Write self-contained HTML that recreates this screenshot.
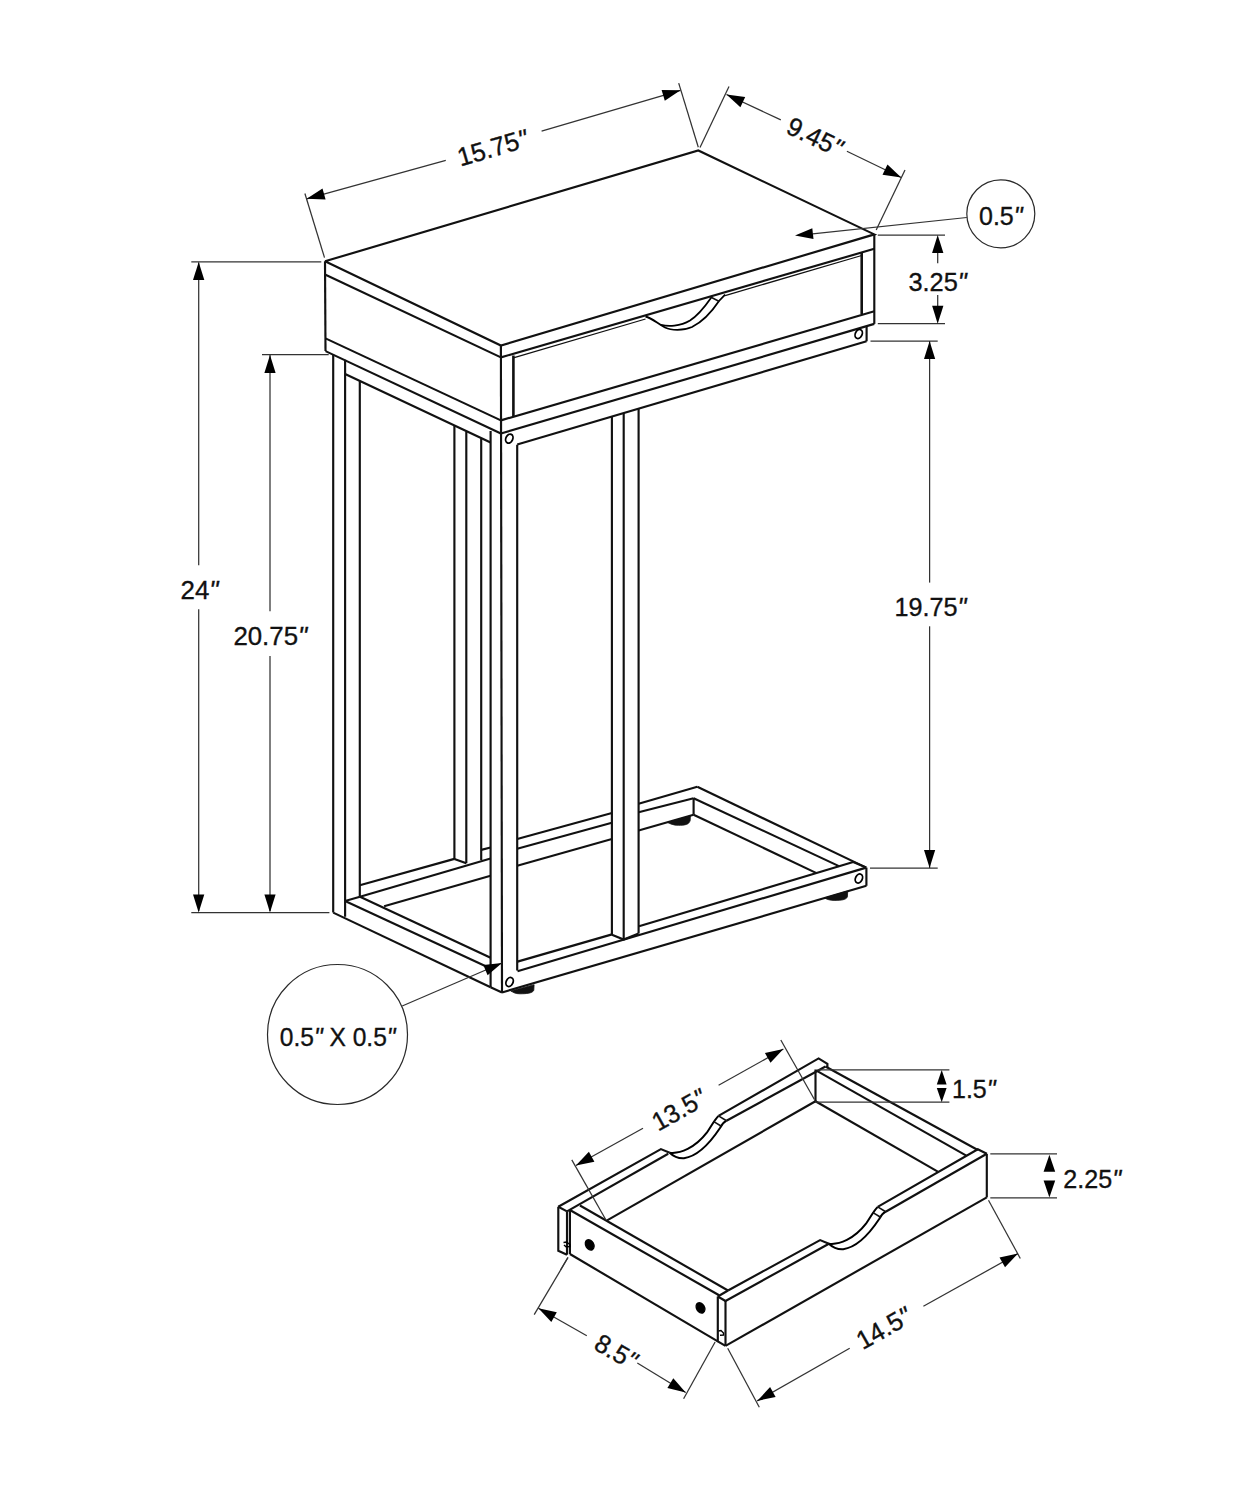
<!DOCTYPE html>
<html><head><meta charset="utf-8"><style>
html,body{margin:0;padding:0;background:#fff;}
svg{display:block;}
text{font-family:"Liberation Sans",sans-serif;fill:#111;stroke:#111;stroke-width:0.35px;}
</style></head><body>
<svg width="1236" height="1500" viewBox="0 0 1236 1500" stroke-linecap="butt" stroke-linejoin="miter">
<rect width="1236" height="1500" fill="#fff"/>
<path d="M325.0,261.3 L698.3,150.5 L874.3,234.4 L500.9,345.5 L325.0,261.3" stroke="#111" stroke-width="2.15" fill="none"/>
<path d="M325.0,261.3 L325.5,351.1" stroke="#111" stroke-width="2.15" fill="none"/>
<path d="M325.0,274.5 L500.9,357.4" stroke="#111" stroke-width="2.15" fill="none"/>
<path d="M325.5,338.4 L500.9,420.4" stroke="#111" stroke-width="2.15" fill="none"/>
<path d="M325.5,351.1 L500.9,433.5" stroke="#111" stroke-width="2.15" fill="none"/>
<path d="M500.9,345.5 L502.0,992.5" stroke="#111" stroke-width="2.15" fill="none"/>
<path d="M874.3,234.4 L874.3,323.9" stroke="#111" stroke-width="2.15" fill="none"/>
<path d="M500.9,357.4 L874.3,248.8" stroke="#111" stroke-width="2.15" fill="none"/>
<path d="M500.9,420.4 L874.3,311.3" stroke="#111" stroke-width="2.15" fill="none"/>
<path d="M500.9,433.5 L874.3,323.9" stroke="#111" stroke-width="2.15" fill="none"/>
<path d="M513.4,355.5 L513.4,417.0" stroke="#111" stroke-width="2.6" fill="none"/>
<path d="M861.7,252.5 L861.7,314.0" stroke="#111" stroke-width="2.6" fill="none"/>
<path d="M513.4,357.8 L645.5,319.0" stroke="#111" stroke-width="1.3" fill="none"/>
<path d="M725.1,295.6 L861.7,255.5" stroke="#111" stroke-width="1.3" fill="none"/>
<path d="M645.5,316.5 C652,318 658,324 665,327.5 C671,330.5 683,331 692,327 C704,321 713,310 719,301 L725.1,294.6" stroke="#000" stroke-width="1.8" fill="none"/>
<path d="M661,324.8 C668,326.5 680,326.5 690,320.5 C700,314 706,305 711.6,297" stroke="#000" stroke-width="1.8" fill="none"/>
<path d="M711.6,297.5 L719.3,301.5" stroke="#111" stroke-width="1.5" fill="none"/>
<ellipse cx="509.3" cy="438.6" rx="3.4" ry="4.7" transform="rotate(25 509.3 438.6)" stroke="#000" stroke-width="1.8" fill="none"/>
<ellipse cx="858.7" cy="334.0" rx="3.4" ry="4.7" transform="rotate(25 858.7 334.0)" stroke="#000" stroke-width="1.8" fill="none"/>
<ellipse cx="509.6" cy="982.0" rx="3.4" ry="4.7" transform="rotate(25 509.6 982.0)" stroke="#000" stroke-width="1.8" fill="none"/>
<ellipse cx="858.9" cy="878.5" rx="3.4" ry="4.7" transform="rotate(25 858.9 878.5)" stroke="#000" stroke-width="1.8" fill="none"/>
<path d="M333.2,354.5 L333.2,912.6" stroke="#111" stroke-width="2.15" fill="none"/>
<path d="M345.1,359.8 L345.1,916.8" stroke="#111" stroke-width="2.15" fill="none"/>
<path d="M359.8,381.2 L359.8,896.5" stroke="#111" stroke-width="2.15" fill="none"/>
<path d="M345.1,374.0 L490.6,442.5" stroke="#111" stroke-width="2.15" fill="none"/>
<path d="M454.4,425.8 L454.4,858.9" stroke="#111" stroke-width="2.15" fill="none"/>
<path d="M466.3,431.4 L466.3,863.3" stroke="#111" stroke-width="2.15" fill="none"/>
<path d="M481.2,438.5 L481.2,860.0" stroke="#111" stroke-width="2.15" fill="none"/>
<path d="M490.6,431.1 L490.6,987.2" stroke="#111" stroke-width="2.15" fill="none"/>
<path d="M517.2,444.7 L517.2,970.4" stroke="#111" stroke-width="2.15" fill="none"/>
<path d="M517.2,444.5 L866.6,341.3" stroke="#111" stroke-width="2.15" fill="none"/>
<path d="M866.6,326.0 L866.6,341.3" stroke="#111" stroke-width="2.15" fill="none"/>
<path d="M611.9,416.4 L611.9,934.8" stroke="#111" stroke-width="2.15" fill="none"/>
<path d="M623.7,413.0 L623.7,939.6" stroke="#111" stroke-width="2.15" fill="none"/>
<path d="M638.6,408.5 L638.6,933.5" stroke="#111" stroke-width="2.15" fill="none"/>
<path d="M333.2,912.6 L490.6,987.2" stroke="#111" stroke-width="2.15" fill="none"/>
<path d="M345.1,901.0 L490.6,968.5" stroke="#111" stroke-width="2.15" fill="none"/>
<path d="M360.0,896.8 L490.6,957.8" stroke="#111" stroke-width="2.15" fill="none"/>
<path d="M345.1,901.0 L360.0,896.8" stroke="#111" stroke-width="2.15" fill="none"/>
<path d="M359.8,885.2 L454.4,858.9" stroke="#111" stroke-width="2.15" fill="none"/>
<path d="M454.4,858.9 L466.3,863.3" stroke="#111" stroke-width="2.15" fill="none"/>
<path d="M360.0,896.8 L490.6,858.5" stroke="#111" stroke-width="2.15" fill="none"/>
<path d="M384.1,906.2 L490.6,875.7" stroke="#111" stroke-width="2.15" fill="none"/>
<path d="M481.2,849.9 L490.6,847.5" stroke="#111" stroke-width="2.15" fill="none"/>
<path d="M517.2,839.0 L611.9,813.0" stroke="#111" stroke-width="2.15" fill="none"/>
<path d="M517.2,848.7 L611.9,822.7" stroke="#111" stroke-width="2.15" fill="none"/>
<path d="M517.2,865.7 L611.9,839.0" stroke="#111" stroke-width="2.15" fill="none"/>
<path d="M638.6,803.8 L697.3,786.8" stroke="#111" stroke-width="2.15" fill="none"/>
<path d="M638.6,812.3 L693.6,798.2" stroke="#111" stroke-width="2.15" fill="none"/>
<path d="M638.6,830.5 L693.6,814.7" stroke="#111" stroke-width="2.15" fill="none"/>
<path d="M693.6,798.2 L693.6,814.7" stroke="#111" stroke-width="2.15" fill="none"/>
<path d="M697.3,786.8 L866.2,867.6" stroke="#111" stroke-width="2.15" fill="none"/>
<path d="M693.6,798.2 L839.5,866.4" stroke="#111" stroke-width="2.15" fill="none"/>
<path d="M693.6,814.7 L816.0,872.9" stroke="#111" stroke-width="2.15" fill="none"/>
<path d="M517.5,961.6 L612.0,934.4" stroke="#111" stroke-width="2.15" fill="none"/>
<path d="M517.5,971.3 L866.2,867.6" stroke="#111" stroke-width="2.15" fill="none"/>
<path d="M639.0,926.3 L853.2,862.0" stroke="#111" stroke-width="2.15" fill="none"/>
<path d="M853.2,862.0 L866.2,867.6" stroke="#111" stroke-width="2.15" fill="none"/>
<path d="M502.0,992.5 L866.4,885.8" stroke="#111" stroke-width="2.15" fill="none"/>
<path d="M866.4,867.6 L866.4,885.8" stroke="#111" stroke-width="2.15" fill="none"/>
<path d="M490.6,987.2 L502.0,992.5" stroke="#111" stroke-width="2.15" fill="none"/>
<path d="M611.9,934.8 L623.7,939.6 L638.6,933.5" stroke="#111" stroke-width="2.15" fill="none"/>
<path d="M667.4,822.4 L690.4,815.8 L690.2,820.2 C689.2,824.8 684.5,825.3 678.5,825.3 C673.5,825.3 670.4,823.9 667.4,822.4 Z" stroke="#111" stroke-width="0.8" fill="#111"/>
<path d="M824.4,898.0 L847.7,891.0 L847.4,896.8 C846.4,899.9 840.8,900.4 834.8,900.4 C829.8,900.4 827.4,899.5 824.4,898.0 Z" stroke="#111" stroke-width="0.8" fill="#111"/>
<path d="M510.8,991.0 L534.1,984.7 L533.8,990.2 C532.8,993.3 526.0,993.8 520.0,993.8 C515.0,993.8 513.8,992.5 510.8,991.0 Z" stroke="#111" stroke-width="0.8" fill="#111"/>
<path d="M191.3,261.8 L321.3,261.8" stroke="#333" stroke-width="1.25" fill="none"/>
<path d="M191.3,912.6 L329.4,912.6" stroke="#333" stroke-width="1.25" fill="none"/>
<path d="M198.7,262.5 L198.7,565.2" stroke="#333" stroke-width="1.25" fill="none"/>
<path d="M198.7,609.3 L198.7,911.0" stroke="#333" stroke-width="1.25" fill="none"/>
<path d="M198.7,262.0 L193.0,280.0 L204.3,280.0 Z" fill="#000"/>
<path d="M198.7,912.6 L204.3,894.6 L193.0,894.6 Z" fill="#000"/>
<text x="199.5" y="598.9" font-size="26.5" text-anchor="middle" textLength="38" lengthAdjust="spacingAndGlyphs">24<tspan font-style="italic">&quot;</tspan></text>
<path d="M262.0,354.5 L328.7,354.5" stroke="#333" stroke-width="1.25" fill="none"/>
<path d="M270.0,355.0 L270.0,611.2" stroke="#333" stroke-width="1.25" fill="none"/>
<path d="M270.0,655.9 L270.0,911.0" stroke="#333" stroke-width="1.25" fill="none"/>
<path d="M270.0,355.0 L264.4,373.0 L275.6,373.0 Z" fill="#000"/>
<path d="M270.0,912.6 L275.6,894.6 L264.4,894.6 Z" fill="#000"/>
<text x="270.3" y="644.9" font-size="26.3" text-anchor="middle" textLength="73.8" lengthAdjust="spacingAndGlyphs">20.75<tspan font-style="italic">&quot;</tspan></text>
<path d="M877.8,235.0 L945.0,235.0" stroke="#333" stroke-width="1.25" fill="none"/>
<path d="M877.8,323.7 L945.0,323.7" stroke="#333" stroke-width="1.25" fill="none"/>
<path d="M937.7,252.0 L937.7,263.3" stroke="#333" stroke-width="1.25" fill="none"/>
<path d="M937.7,294.9 L937.7,306.2" stroke="#333" stroke-width="1.25" fill="none"/>
<path d="M937.7,235.0 L932.1,253.0 L943.4,253.0 Z" fill="#000"/>
<path d="M937.7,323.7 L943.4,305.7 L932.1,305.7 Z" fill="#000"/>
<text x="937.6" y="290.8" font-size="26" text-anchor="middle" textLength="58.3" lengthAdjust="spacingAndGlyphs">3.25<tspan font-style="italic">&quot;</tspan></text>
<path d="M870.5,341.0 L937.7,341.0" stroke="#333" stroke-width="1.25" fill="none"/>
<path d="M870.0,868.0 L937.7,868.0" stroke="#333" stroke-width="1.25" fill="none"/>
<path d="M929.6,341.0 L929.6,582.6" stroke="#333" stroke-width="1.25" fill="none"/>
<path d="M929.6,626.3 L929.6,868.0" stroke="#333" stroke-width="1.25" fill="none"/>
<path d="M929.6,341.0 L924.0,359.0 L935.2,359.0 Z" fill="#000"/>
<path d="M929.6,868.0 L935.2,850.0 L924.0,850.0 Z" fill="#000"/>
<text x="930.5" y="616.3" font-size="26" text-anchor="middle" textLength="72" lengthAdjust="spacingAndGlyphs">19.75<tspan font-style="italic">&quot;</tspan></text>
<path d="M304.9,193.5 L324.5,257.6" stroke="#333" stroke-width="1.25" fill="none"/>
<path d="M678.7,83.1 L698.3,147.2" stroke="#333" stroke-width="1.25" fill="none"/>
<path d="M306.7,198.8 L445.8,160.3" stroke="#333" stroke-width="1.25" fill="none"/>
<path d="M541.6,131.1 L680.5,90.3" stroke="#333" stroke-width="1.25" fill="none"/>
<path d="M306.7,198.8 L325.6,199.4 L322.5,188.6 Z" fill="#000"/>
<path d="M680.5,90.3 L661.6,90.0 L664.8,100.8 Z" fill="#000"/>
<text x="495" y="156.5" font-size="26" text-anchor="middle" textLength="72" lengthAdjust="spacingAndGlyphs" transform="rotate(-16.3 495 156.5)">15.75<tspan font-style="italic">&quot;</tspan></text>
<path d="M729.0,86.5 L700.0,147.5" stroke="#333" stroke-width="1.25" fill="none"/>
<path d="M905.0,170.0 L876.2,230.0" stroke="#333" stroke-width="1.25" fill="none"/>
<path d="M726.5,94.5 L780.8,119.9" stroke="#333" stroke-width="1.25" fill="none"/>
<path d="M846.9,151.2 L901.2,177.5" stroke="#333" stroke-width="1.25" fill="none"/>
<path d="M726.5,94.5 L740.4,107.2 L745.2,97.0 Z" fill="#000"/>
<path d="M901.2,177.5 L887.5,164.6 L882.5,174.7 Z" fill="#000"/>
<text x="811" y="145" font-size="26" text-anchor="middle" textLength="58" lengthAdjust="spacingAndGlyphs" transform="rotate(25.6 811 145)">9.45<tspan font-style="italic">&quot;</tspan></text>
<path d="M812.6,233.9 L966.8,217.5" stroke="#333" stroke-width="1.25" fill="none"/>
<path d="M795.0,235.5 L813.5,239.1 L812.3,228.2 Z" fill="#000"/>
<circle cx="1000.8" cy="213.8" r="34" stroke="#2a2a2a" stroke-width="1.2" fill="none"/>
<text x="1000.8" y="225" font-size="25" text-anchor="middle" textLength="43.6" lengthAdjust="spacingAndGlyphs">0.5<tspan font-style="italic">&quot;</tspan></text>
<path d="M502.0,963.0 L402.2,1006.0" stroke="#333" stroke-width="1.25" fill="none"/>
<path d="M502.0,963.0 L483.3,965.1 L487.6,975.2 Z" fill="#000"/>
<circle cx="337.5" cy="1034.5" r="70" stroke="#2a2a2a" stroke-width="1.2" fill="none"/>
<text x="337.7" y="1046.1" font-size="26" text-anchor="middle" textLength="115.7" lengthAdjust="spacingAndGlyphs">0.5<tspan font-style="italic">&quot;</tspan> X 0.5<tspan font-style="italic">&quot;</tspan></text>
<path d="M558.3,1206.8 L660.9,1149.1 L669.7,1152.7" stroke="#111" stroke-width="2.15" fill="none"/>
<path d="M567.0,1211.4 L668.2,1153.8" stroke="#111" stroke-width="2.15" fill="none"/>
<path d="M669.7,1152.7 C680,1154 695,1148 706.8,1132.7 C712,1125 715,1119 718.5,1115.9" stroke="#000" stroke-width="2" fill="none"/>
<path d="M669.7,1152.7 C673,1156 678,1158.5 684,1158.2 C700,1156 712,1140 720,1128 C722,1124 724,1122 726.5,1120.7" stroke="#000" stroke-width="2" fill="none"/>
<path d="M713.8,1121.6 L721.4,1126.3" stroke="#111" stroke-width="1.6" fill="none"/>
<path d="M718.5,1115.9 L726.5,1120.7" stroke="#111" stroke-width="1.6" fill="none"/>
<path d="M718.5,1115.9 L818.6,1058.4 L827.4,1063.9 L827.4,1067.0" stroke="#111" stroke-width="2.15" fill="none"/>
<path d="M726.5,1120.7 L825.5,1066.5" stroke="#111" stroke-width="2.15" fill="none"/>
<path d="M607.1,1220.4 L815.5,1101.2" stroke="#111" stroke-width="2.15" fill="none"/>
<path d="M815.5,1069.5 L815.5,1101.2" stroke="#111" stroke-width="2.15" fill="none"/>
<path d="M558.3,1206.8 L558.3,1250.8 L567.0,1254.7" stroke="#111" stroke-width="2.15" fill="none"/>
<path d="M567.0,1211.4 L567.0,1254.7" stroke="#111" stroke-width="2.15" fill="none"/>
<path d="M558.3,1206.8 L567.0,1211.4" stroke="#111" stroke-width="2.15" fill="none"/>
<path d="M569.9,1210.0 L569.9,1254.0" stroke="#111" stroke-width="2.15" fill="none"/>
<path d="M825.5,1066.5 L977.8,1150.0" stroke="#111" stroke-width="2.15" fill="none"/>
<path d="M816.0,1070.4 L966.3,1155.6" stroke="#111" stroke-width="2.15" fill="none"/>
<path d="M815.5,1101.2 L937.8,1171.6" stroke="#111" stroke-width="2.15" fill="none"/>
<path d="M580.0,1205.5 L728.0,1290.5" stroke="#111" stroke-width="2.15" fill="none"/>
<path d="M569.9,1210.0 L719.1,1295.3" stroke="#111" stroke-width="2.15" fill="none"/>
<path d="M569.9,1254.0 L717.8,1341.4" stroke="#111" stroke-width="2.15" fill="none"/>
<path d="M717.8,1296.5 L717.8,1341.4 L725.5,1345.9" stroke="#111" stroke-width="2.15" fill="none"/>
<path d="M725.5,1301.0 L725.5,1345.9" stroke="#111" stroke-width="2.15" fill="none"/>
<path d="M717.8,1296.5 L725.5,1301.0" stroke="#111" stroke-width="2.15" fill="none"/>
<path d="M717.8,1296.5 L728.0,1290.5" stroke="#111" stroke-width="2.15" fill="none"/>
<path d="M728.0,1290.5 L820.1,1240.1 L828.9,1243.8" stroke="#111" stroke-width="2.15" fill="none"/>
<path d="M725.5,1301.0 L828.9,1243.8" stroke="#111" stroke-width="2.15" fill="none"/>
<g transform="translate(159.2,91)">
<path d="M669.7,1152.7 C680,1154 695,1148 706.8,1132.7 C712,1125 715,1119 718.5,1115.9" stroke="#000" stroke-width="2" fill="none"/>
<path d="M669.7,1152.7 C673,1156 678,1158.5 684,1158.2 C700,1156 712,1140 720,1128 C722,1124 724,1122 726.5,1120.7" stroke="#000" stroke-width="2" fill="none"/>
<path d="M713.8,1121.6 L721.4,1126.3" stroke="#111" stroke-width="1.6" fill="none"/>
<path d="M718.5,1115.9 L726.5,1120.7" stroke="#111" stroke-width="1.6" fill="none"/>
</g>
<path d="M877.7,1206.9 L977.8,1149.3 L986.8,1153.8" stroke="#111" stroke-width="2.15" fill="none"/>
<path d="M885.7,1211.7 L986.8,1153.8" stroke="#111" stroke-width="2.15" fill="none"/>
<path d="M986.8,1153.8 L986.8,1197.4" stroke="#111" stroke-width="2.15" fill="none"/>
<path d="M725.5,1345.9 L986.8,1197.4" stroke="#111" stroke-width="2.15" fill="none"/>
<ellipse cx="589.7" cy="1244.8" rx="3.9" ry="5.4" transform="rotate(-30 589.7 1244.8)" stroke="#000" stroke-width="1.5" fill="#000"/>
<ellipse cx="700.5" cy="1307.8" rx="3.9" ry="5.4" transform="rotate(-30 700.5 1307.8)" stroke="#000" stroke-width="1.5" fill="#000"/>
<path d="M563.5,1242.5 L566.5,1242 L569.9,1244.5 L569.9,1246.5 L566,1246.8 L564,1245" stroke="#000" stroke-width="1.4" fill="none"/>
<path d="M718.5,1331 L721,1330.5 L723.5,1333 L723.5,1335 L720,1335.3" stroke="#000" stroke-width="1.4" fill="none"/>
<path d="M571.8,1159.9 L605.8,1219.7" stroke="#333" stroke-width="1.25" fill="none"/>
<path d="M780.8,1040.0 L814.4,1099.5" stroke="#333" stroke-width="1.25" fill="none"/>
<path d="M575.9,1165.5 L643.0,1128.3" stroke="#333" stroke-width="1.25" fill="none"/>
<path d="M718.6,1085.3 L783.4,1049.0" stroke="#333" stroke-width="1.25" fill="none"/>
<path d="M575.9,1165.5 L594.4,1161.7 L588.9,1151.8 Z" fill="#000"/>
<path d="M783.4,1049.0 L764.9,1052.9 L770.5,1062.7 Z" fill="#000"/>
<text x="683" y="1117.7" font-size="26" text-anchor="middle" textLength="57" lengthAdjust="spacingAndGlyphs" transform="rotate(-29.3 683 1117.7)">13.5<tspan font-style="italic">&quot;</tspan></text>
<path d="M817.5,1069.9 L949.4,1069.9" stroke="#333" stroke-width="1.25" fill="none"/>
<path d="M815.5,1102.2 L949.4,1102.2" stroke="#333" stroke-width="1.25" fill="none"/>
<path d="M941.7,1070.1 L936.8,1084.4 L946.6,1084.4 Z" fill="#000"/>
<path d="M941.7,1102.2 L946.6,1087.9 L936.8,1087.9 Z" fill="#000"/>
<text x="952" y="1097.7" font-size="26" text-anchor="start" textLength="43.6" lengthAdjust="spacingAndGlyphs">1.5<tspan font-style="italic">&quot;</tspan></text>
<path d="M990.3,1153.8 L1057.0,1153.8" stroke="#333" stroke-width="1.25" fill="none"/>
<path d="M990.3,1197.9 L1057.0,1197.9" stroke="#333" stroke-width="1.25" fill="none"/>
<path d="M1049.4,1154.7 L1043.6,1171.7 L1055.2,1171.7 Z" fill="#000"/>
<path d="M1049.4,1197.4 L1055.2,1180.4 L1043.6,1180.4 Z" fill="#000"/>
<text x="1063.3" y="1187.6" font-size="25.5" text-anchor="start" textLength="57.8" lengthAdjust="spacingAndGlyphs">2.25<tspan font-style="italic">&quot;</tspan></text>
<path d="M567.9,1257.8 L534.2,1314.6" stroke="#333" stroke-width="1.25" fill="none"/>
<path d="M715.1,1342.0 L683.6,1398.8" stroke="#333" stroke-width="1.25" fill="none"/>
<path d="M538.4,1308.3 L586.8,1335.7" stroke="#333" stroke-width="1.25" fill="none"/>
<path d="M637.3,1363.0 L685.7,1392.5" stroke="#333" stroke-width="1.25" fill="none"/>
<path d="M538.4,1308.3 L551.3,1322.1 L556.8,1312.3 Z" fill="#000"/>
<path d="M685.7,1392.5 L673.3,1378.3 L667.4,1388.0 Z" fill="#000"/>
<text x="611.5" y="1359.5" font-size="26" text-anchor="middle" textLength="44" lengthAdjust="spacingAndGlyphs" transform="rotate(29.7 611.5 1359.5)">8.5<tspan font-style="italic">&quot;</tspan></text>
<path d="M727.7,1348.3 L759.3,1407.2" stroke="#333" stroke-width="1.25" fill="none"/>
<path d="M988.5,1200.2 L1020.3,1258.5" stroke="#333" stroke-width="1.25" fill="none"/>
<path d="M757.2,1400.9 L849.7,1348.3" stroke="#333" stroke-width="1.25" fill="none"/>
<path d="M923.4,1306.2 L1018.0,1253.6" stroke="#333" stroke-width="1.25" fill="none"/>
<path d="M757.2,1400.9 L775.6,1396.9 L770.1,1387.1 Z" fill="#000"/>
<path d="M1018.0,1253.6 L999.5,1257.4 L1005.0,1267.3 Z" fill="#000"/>
<text x="888" y="1336" font-size="26" text-anchor="middle" textLength="58" lengthAdjust="spacingAndGlyphs" transform="rotate(-29.5 888 1336)">14.5<tspan font-style="italic">&quot;</tspan></text>
<path d="M568.0,1257.3 L560.5,1270.0" stroke="#333" stroke-width="1.25" fill="none"/>
</svg></body></html>
